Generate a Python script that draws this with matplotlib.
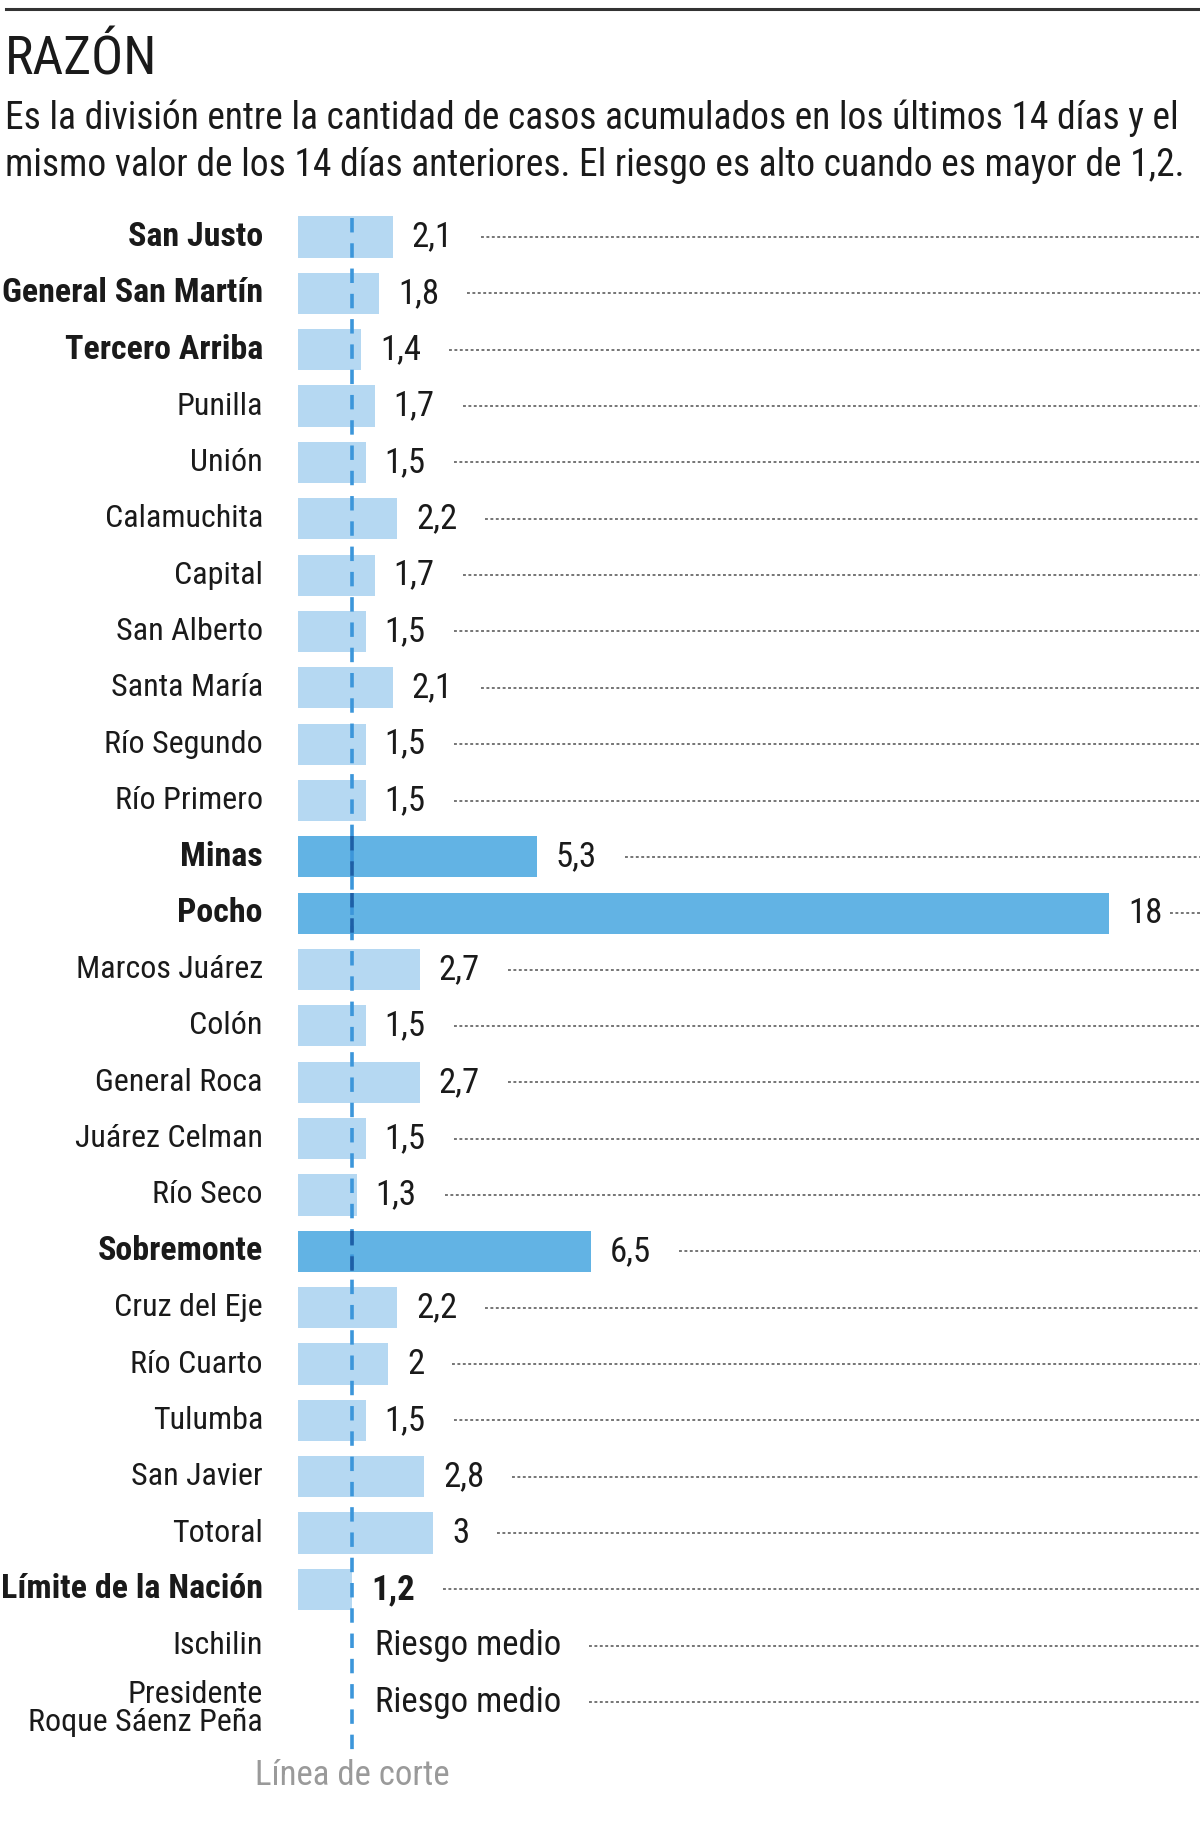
import matplotlib
matplotlib.use("Agg")
import matplotlib.pyplot as plt
from matplotlib import font_manager

# Data
names = ["San Justo", "General San Martín", "Tercero Arriba", "Punilla", "Unión",
         "Calamuchita", "Capital", "San Alberto", "Santa María", "Río Segundo",
         "Río Primero", "Minas", "Pocho", "Marcos Juárez", "Colón", "General Roca",
         "Juárez Celman", "Río Seco", "Sobremonte", "Cruz del Eje", "Río Cuarto",
         "Tulumba", "San Javier", "Totoral", "Límite de la Nación"]
values = [2.1, 1.8, 1.4, 1.7, 1.5, 2.2, 1.7, 1.5, 2.1, 1.5, 1.5, 5.3, 18, 2.7, 1.5,
          2.7, 1.5, 1.3, 6.5, 2.2, 2, 1.5, 2.8, 3, 1.2]
value_labels = ["2,1", "1,8", "1,4", "1,7", "1,5", "2,2", "1,7", "1,5", "2,1", "1,5",
                "1,5", "5,3", "18", "2,7", "1,5", "2,7", "1,5", "1,3", "6,5", "2,2",
                "2", "1,5", "2,8", "3", "1,2"]
bold_names = ["San Justo", "General San Martín", "Tercero Arriba", "Minas", "Pocho",
              "Sobremonte", "Límite de la Nación"]
high_risk = ["Minas", "Pocho", "Sobremonte"]
no_data_names = ["Ischilin", "Presidente\nRoque Sáenz Peña"]
no_data_text = "Riesgo medio"
cut_value = 1.2

title = "RAZÓN"
subtitle = ["Es la división entre la cantidad de casos acumulados en los últimos 14 días y el",
            "mismo valor de los 14 días anteriores. El riesgo es alto cuando es mayor de 1,2."]

available = {f.name for f in font_manager.fontManager.ttflist}
FONT = [f for f in ["Liberation Sans Narrow", "Roboto Condensed", "Liberation Sans", "DejaVu Sans"]
        if f in available]
plt.rcParams['font.family'] = FONT

LIGHT = "#b5d8f2"
DARK = "#62b3e4"
LINE = "#3c96da"
LINE_DARK = "#1e5fa6"
TXT = "#1a1a1a"
DOTS = "#6a6a6a"

W, H = 1200, 1842
fig = plt.figure(figsize=(W / 100, H / 100), dpi=100)

# axes covering the whole figure, scaled so that value 0 sits at x=298px
px_per_unit = 45.06
x0 = 298
row0, row_h = 237, 56.35
ax = fig.add_axes([0, 0, 1, 1])
ax.set_xlim(-x0 / px_per_unit, (W - x0) / px_per_unit)
ax.set_ylim((H - row0) / row_h, -row0 / row_h)
ax.axis("off")

n = len(names)
rows = list(range(n))
colors = [DARK if nm in high_risk else LIGHT for nm in names]
ax.barh(rows, values, height=0.73, color=colors, zorder=1)

# cut line
ax.plot([cut_value, cut_value], [-0.33, n + 1.87], color=LINE, lw=2.6,
        dashes=(4, 3), zorder=3)
for i, nm in enumerate(names):
    if nm in high_risk:
        ax.plot([cut_value, cut_value], [i - 0.365, i + 0.365], color=LINE_DARK,
                lw=2.6, dashes=(4, 3), zorder=4)

fig.canvas.draw()
renderer = fig.canvas.get_renderer()
inv = ax.transData.inverted()
label_off = 19 / px_per_unit
fs_name = 23
fs_bold = 24.5
fs_val = 25

def leader(txt, y):
    bb = txt.get_window_extent(renderer)
    gap = min(28, (W - bb.x1) - 30)
    xs = inv.transform((bb.x1 + gap, 0))[0]
    ax.plot([xs, ax.get_xlim()[1]], [y, y], color=DOTS, lw=1.3,
            dashes=(1.6, 1.4), zorder=2)

for i, (nm, v, lab) in enumerate(zip(names, values, value_labels)):
    b = nm in bold_names
    ax.text(-35 / px_per_unit, i, nm, ha="right", va="center",
            fontsize=fs_bold if b else fs_name,
            fontweight="bold" if b else "normal", color=TXT)
    t = ax.text(v + label_off, i, lab, ha="left", va="center", fontsize=fs_val,
                fontweight="bold" if nm == "Límite de la Nación" else "normal", color=TXT)
    leader(t, i)

for j, nm in enumerate(no_data_names):
    y = n + j
    ax.text(-35 / px_per_unit, y + (0.12 if "\n" in nm else 0), nm, ha="right",
            va="center", fontsize=fs_name, color=TXT, linespacing=0.95)
    t = ax.text(cut_value + label_off + 0.08, y, no_data_text, ha="left", va="center",
                fontsize=fs_val, color=TXT)
    leader(t, y)

ax.text(cut_value, n + 2.3, "Línea de corte", ha="center", va="center",
        fontsize=fs_val, color="#9a9a9a")

# header
fig.add_artist(plt.Line2D([6 / W, 1199 / W], [1 - 9 / H, 1 - 9 / H], color="#333333", lw=2.2))
fig.text(5 / W, 1 - 60 / H, title, ha="left", va="center", fontsize=38.5, color=TXT)
fig.text(5 / W, 1 - 118 / H, subtitle[0], ha="left", va="center", fontsize=27, color=TXT)
fig.text(5 / W, 1 - 165 / H, subtitle[1], ha="left", va="center", fontsize=27, color=TXT)

fig.savefig("out.png", dpi=100, facecolor="white")
